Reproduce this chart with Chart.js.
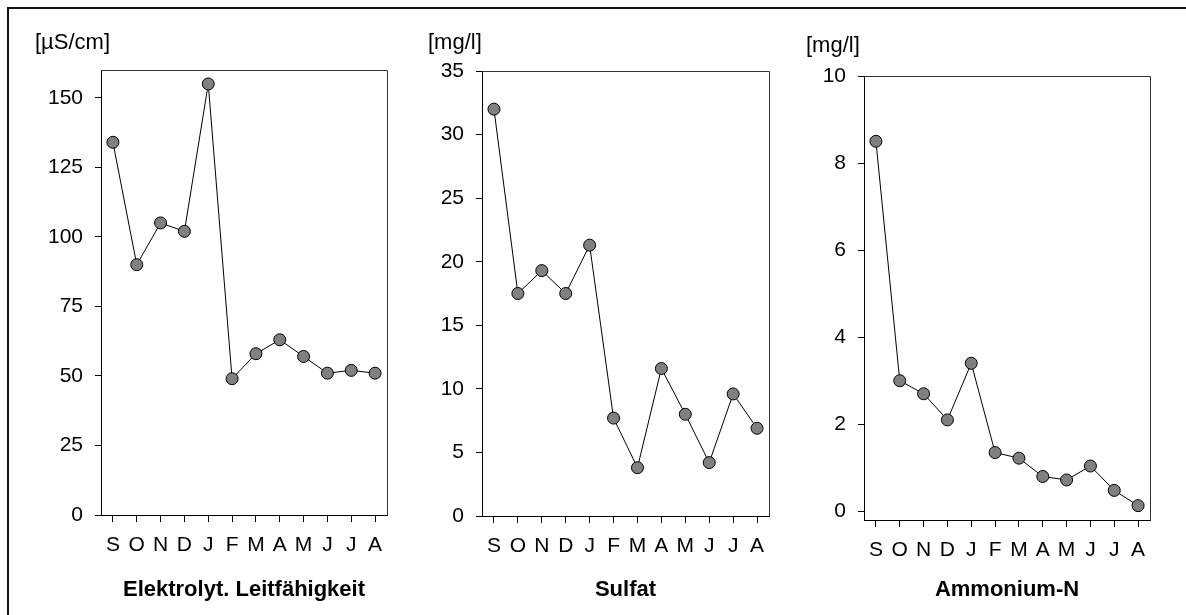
<!DOCTYPE html>
<html>
<head>
<meta charset="utf-8">
<script src="https://cdn.jsdelivr.net/npm/chart.js@4.4.1/dist/chart.umd.min.js"></script>
<style>
    body { margin: 0; background: #fff; width: 1186px; height: 615px; overflow: hidden; position: relative; font-family: 'Liberation Sans', Arial, sans-serif; }
    .frame { position: absolute; left: 7px; top: 7px; right: 0; bottom: 0; border-top: 2px solid #111; border-left: 2px solid #111; }
    canvas { position: absolute; top: 0; }
    .unit { position: absolute; font-size: 22px; line-height: 22px; color: #000; white-space: nowrap; }
</style>
</head>
<body>
<div class="frame"></div>
<canvas id="chartEl" width="385" height="615" style="left:10px"></canvas>
<canvas id="chartSo4" width="382" height="615" style="left:395px"></canvas>
<canvas id="chartNh4" width="409" height="615" style="left:777px"></canvas>
<div class="unit" style="left:35px; top:31px">[µS/cm]</div>
<div class="unit" style="left:428px; top:31px">[mg/l]</div>
<div class="unit" style="left:806px; top:34px">[mg/l]</div>

<script>
// months Sep - Aug
const months = ['S', 'O', 'N', 'D', 'J', 'F', 'M', 'A', 'M', 'J', 'J', 'A'];

const leitfaehigkeit = [134, 90, 105, 102, 155, 49, 58, 63, 57, 51, 52, 51];
const sulfat = [32.0, 17.5, 19.3, 17.5, 21.3, 7.7, 3.8, 11.6, 8.0, 4.2, 9.6, 6.9];
const ammonium = [8.5, 3.0, 2.7, 2.1, 3.4, 1.35, 1.22, 0.8, 0.72, 1.04, 0.48, 0.13];

const leitTicks = [0, 25, 50, 75, 100, 125, 150];
const sulfatTicks = [0, 5, 10, 15, 20, 25, 30, 35];
const ammonTicks = [0, 2, 4, 6, 8, 10];

Chart.defaults.font.family = "'Liberation Sans', Arial, sans-serif";
Chart.defaults.color = '#000';

// top + right edge of the plot box
const boxPlugin = {
    id: 'box',
    afterDraw(chart) {
        const { ctx, chartArea: a } = chart;
        ctx.save();
        ctx.strokeStyle = '#333';
        ctx.lineWidth = 1;
        ctx.beginPath();
        ctx.moveTo(a.left, a.top + 0.5);
        ctx.lineTo(a.right + 0.5, a.top + 0.5);
        ctx.lineTo(a.right + 0.5, a.bottom);
        ctx.stroke();
        ctx.restore();
    }
};

function makeChart(id, values, tickValues, yMin, yMax, title, box) {
    const ctx = document.getElementById(id).getContext('2d');
    return new Chart(ctx, {
        type: 'line',
        data: {
            labels: months,
            datasets: [{
                data: values,
                borderColor: '#000',
                borderWidth: 1,
                pointRadius: 6,
                pointBackgroundColor: '#808080',
                pointBorderColor: '#000',
                pointBorderWidth: 1,
                tension: 0,
                clip: false
            }]
        },
        options: {
            responsive: false,
            animation: false,
            devicePixelRatio: 1,
            layout: {
                padding: { top: box.top, right: box.right, bottom: 0, left: 0 }
            },
            plugins: {
                legend: { display: false },
                tooltip: { enabled: false }
            },
            scales: {
                x: {
                    type: 'category',
                    offset: true,
                    grid: {
                        offset: false,
                        drawOnChartArea: false,
                        tickLength: 7,
                        color: '#000'
                    },
                    border: { color: '#000' },
                    ticks: {
                        font: { size: 21 },
                        padding: 11,
                        maxRotation: 0,
                        autoSkip: false
                    },
                    title: {
                        display: true,
                        text: title,
                        font: { size: 22, weight: 'bold' },
                        padding: { top: 0, bottom: 12 }
                    },
                    afterFit: scale => { scale.height = box.xHeight; }
                },
                y: {
                    min: yMin,
                    max: yMax,
                    grid: {
                        drawOnChartArea: false,
                        tickLength: 6,
                        color: '#000'
                    },
                    border: { color: '#000' },
                    ticks: {
                        font: { size: 21 },
                        padding: 12
                    },
                    afterBuildTicks: scale => {
                        scale.ticks = tickValues.map(v => ({ value: v }));
                    },
                    afterFit: scale => { scale.width = box.yWidth; }
                }
            }
        },
        plugins: [boxPlugin]
    });
}

makeChart('chartEl', leitfaehigkeit, leitTicks, 0, 160, 'Elektrolyt. Leitfähigkeit',
    { top: 70, right: 8, yWidth: 91, xHeight: 100 });
makeChart('chartSo4', sulfat, sulfatTicks, 0, 35, 'Sulfat',
    { top: 71, right: 8, yWidth: 87, xHeight: 99 });
makeChart('chartNh4', ammonium, ammonTicks, -0.2, 10, 'Ammonium-N',
    { top: 76, right: 36, yWidth: 87, xHeight: 95 });
</script>
</body>
</html>
